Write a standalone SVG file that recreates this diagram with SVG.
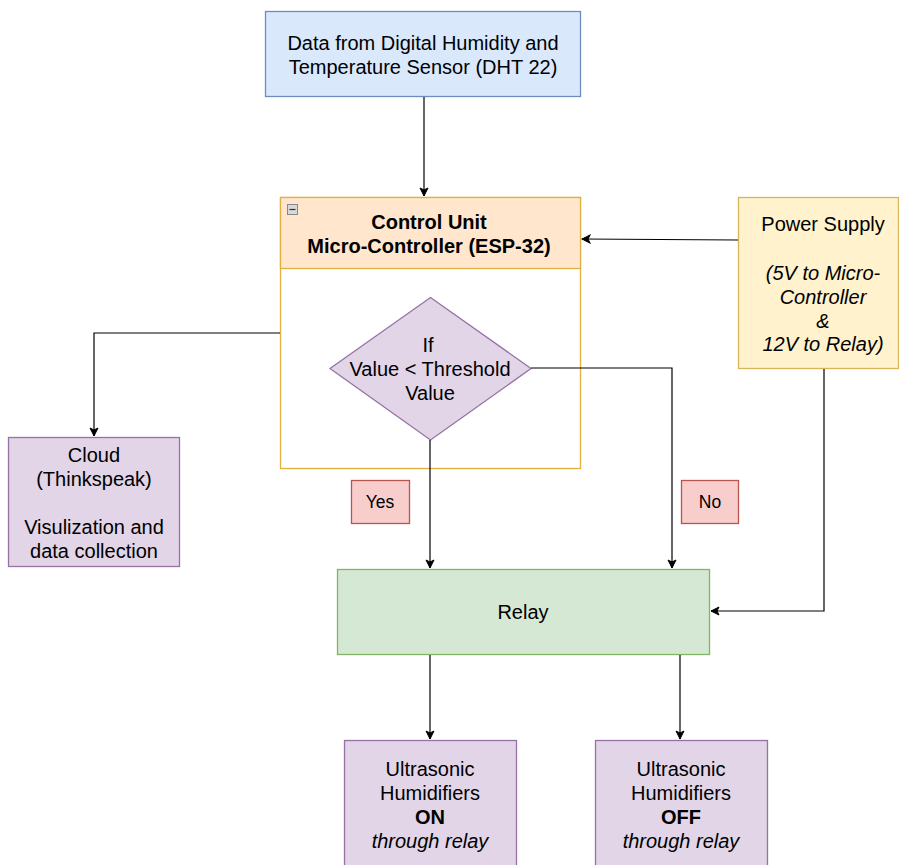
<svg xmlns="http://www.w3.org/2000/svg" width="899" height="865" viewBox="0 0 899 865">
<defs>
<marker id="arr" markerWidth="10" markerHeight="10" refX="9" refY="5" orient="auto" markerUnits="userSpaceOnUse">
<path d="M1,1 L9,5 L1,9 L3,5 Z" fill="#000" stroke="#000" stroke-width="1"/>
</marker>
</defs>
<style>
text{font-family:"Liberation Sans",Arial,sans-serif;font-size:20px;fill:#000;text-anchor:middle}
.b{font-weight:bold}
.i{font-style:italic}
.s{font-size:17.5px}
.blue{fill:#dae8fc;stroke:#6c8ebf;stroke-width:1.3}
.pur{fill:#e1d5e7;stroke:#9673a6;stroke-width:1.3}
.grn{fill:#d5e8d4;stroke:#82b366;stroke-width:1.3}
.red{fill:#f8cecc;stroke:#b85450;stroke-width:1.3}
.yel{fill:#fff2cc;stroke:#d6b656;stroke-width:1.3}
.edge{fill:none;stroke:#000;stroke-width:1.2;marker-end:url(#arr)}
</style>
<rect width="899" height="865" fill="#fff"/>
<g id="sensor">
<rect class="blue" x="265.5" y="11.5" width="315" height="85"/>
<text x="423" y="50">Data from Digital Humidity and</text>
<text x="423" y="74">Temperature Sensor (DHT 22)</text>
</g>
<g id="control-unit">
<rect x="280.5" y="197.5" width="300" height="271" fill="#fff" stroke="#e0b040" stroke-width="1.3"/>
<rect x="280.5" y="197.5" width="300" height="71" fill="#ffe6cc" stroke="#e0b040" stroke-width="1.3"/>
<rect x="287.5" y="204.5" width="10" height="10" fill="#d8d8d8" stroke="#888" stroke-width="1"/>
<line x1="289.5" y1="209.5" x2="295.5" y2="209.5" stroke="#333" stroke-width="1.2"/>
<text class="b" x="429" y="229">Control Unit</text>
<text class="b" x="429" y="253">Micro-Controller (ESP-32)</text>
</g>
<g id="decision">
<polygon class="pur" points="430.5,297.5 531,368.5 430.5,440 330,368.5"/>
<text x="428" y="352">If</text>
<text x="430" y="376">Value &lt; Threshold</text>
<text x="430" y="400">Value</text>
</g>
<g id="power-supply">
<rect class="yel" x="738.5" y="197.5" width="160" height="171"/>
<text x="823" y="231">Power Supply</text>
<text class="i" x="823" y="280">(5V to Micro-</text>
<text class="i" x="823" y="304">Controller</text>
<text class="i" x="823" y="328">&amp;</text>
<text class="i" x="823" y="351">12V to Relay)</text>
</g>
<g id="cloud">
<rect class="pur" x="8.5" y="437.5" width="171" height="129"/>
<text x="94" y="462">Cloud</text>
<text x="94" y="486">(Thinkspeak)</text>
<text x="94" y="534">Visulization and</text>
<text x="94" y="558">data collection</text>
</g>
<g id="yes-label">
<rect class="red" x="351.5" y="480.5" width="58" height="43"/>
<text class="s" x="380" y="508">Yes</text>
</g>
<g id="no-label">
<rect class="red" x="681.5" y="480.5" width="57" height="43"/>
<text class="s" x="710" y="508">No</text>
</g>
<g id="relay">
<rect class="grn" x="337.5" y="569.5" width="372" height="85"/>
<text x="523" y="619">Relay</text>
</g>
<g id="humidifier-on">
<rect class="pur" x="344.5" y="740.5" width="172" height="130"/>
<text x="430" y="776">Ultrasonic</text>
<text x="430" y="800">Humidifiers</text>
<text class="b" x="430" y="824">ON</text>
<text class="i" x="430" y="848">through relay</text>
</g>
<g id="humidifier-off">
<rect class="pur" x="595.5" y="740.5" width="172" height="130"/>
<text x="681" y="776">Ultrasonic</text>
<text x="681" y="800">Humidifiers</text>
<text class="b" x="681" y="824">OFF</text>
<text class="i" x="681" y="848">through relay</text>
</g>
<g id="connectors">
<path class="edge" d="M424,97 V196"/>
<path class="edge" d="M738,240 L582,239"/>
<path class="edge" d="M824,369 V611 H711"/>
<path class="edge" d="M280,333 H94 V436"/>
<path class="edge" d="M430,440 V568"/>
<path class="edge" d="M531,368 H672 V568"/>
<path class="edge" d="M430,655 V739"/>
<path class="edge" d="M680,655 V739"/>
</g>
</svg>
